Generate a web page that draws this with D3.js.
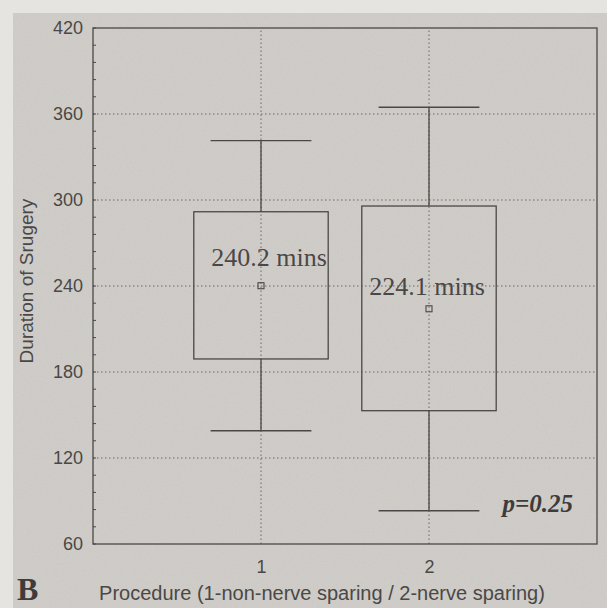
<!DOCTYPE html>
<html>
<head>
<meta charset="utf-8">
<script src="https://cdn.jsdelivr.net/npm/d3@7"></script>
<style>
  body { margin: 0; background: #e6e4e0; }
  svg { display: block; }
</style>
</head>
<body>
<svg id="chart" width="607" height="608"></svg>
<script>
// data
var procedures = [1, 2];
var whiskerHigh = [341.4, 364.7];
var q3 = [291.8, 295.8];
var q1 = [189.1, 153.0];
var whiskerLow = [139.0, 83.2];
var means = [240.2, 224.1];
var meanLabels = ["240.2 mins", "224.1 mins"];
var yTicks = [60, 120, 180, 240, 300, 360, 420];

var svg = d3.select("#chart");

var x = d3.scaleLinear().domain([0, 3]).range([93, 597]);
var y = d3.scaleLinear().domain([60, 420]).range([544, 28]);

var ink = "#4a4846";
var sans = "Liberation Sans, Arial, sans-serif";
var serif = "Liberation Serif, Times New Roman, serif";

// scanned paper background
var defs = svg.append("defs");
var f = defs.append("filter").attr("id", "grain")
  .attr("x", 0).attr("y", 0).attr("width", "100%").attr("height", "100%");
f.append("feTurbulence").attr("type", "fractalNoise")
  .attr("baseFrequency", 0.9).attr("numOctaves", 2).attr("seed", 4);
f.append("feColorMatrix").attr("type", "matrix")
  .attr("values", "0 0 0 0 0.78  0 0 0 0 0.77  0 0 0 0 0.75  0 0 0 -0.6 0.55");

svg.append("rect").attr("x", 13).attr("y", 13).attr("width", 594).attr("height", 595)
  .attr("fill", "#cbc8c4");
svg.append("rect").attr("x", 13).attr("y", 13).attr("width", 594).attr("height", 595)
  .attr("filter", "url(#grain)").attr("opacity", 0.5);

// grid
var grid = svg.append("g").attr("stroke", "#6a6866").attr("stroke-width", 1)
  .attr("stroke-dasharray", "1.5,2.5").attr("fill", "none");
grid.selectAll(".gy").data(yTicks.slice(1, -1)).join("line")
  .attr("x1", x.range()[0]).attr("x2", x.range()[1])
  .attr("y1", d => y(d)).attr("y2", d => y(d));
grid.selectAll(".gx").data(procedures).join("line")
  .attr("x1", d => x(d)).attr("x2", d => x(d))
  .attr("y1", y.range()[0]).attr("y2", y.range()[1]);

// frame
svg.append("rect")
  .attr("x", x.range()[0]).attr("y", y.range()[1])
  .attr("width", x.range()[1] - x.range()[0]).attr("height", y.range()[0] - y.range()[1])
  .attr("fill", "none").attr("stroke", ink).attr("stroke-width", 1.3);

// left axis with minor ticks
var yAxis = d3.axisLeft(y).tickValues(yTicks).tickSize(0).tickPadding(10);
var gy = svg.append("g").attr("transform", "translate(" + x.range()[0] + ",0)").call(yAxis);
gy.select(".domain").remove();
gy.selectAll("text").attr("font-family", sans).attr("font-size", 18).attr("fill", ink);

var minor = d3.range(60, 421, 12);
svg.append("g").selectAll("line").data(minor).join("line")
  .attr("x1", x.range()[0]).attr("x2", x.range()[0] + 3)
  .attr("y1", d => y(d)).attr("y2", d => y(d))
  .attr("stroke", ink).attr("stroke-width", 1);

// bottom axis
var xAxis = d3.axisBottom(x).tickValues(procedures).tickFormat(d3.format("d")).tickSize(0).tickPadding(16);
var gx = svg.append("g").attr("transform", "translate(0," + y.range()[0] + ")").call(xAxis);
gx.select(".domain").remove();
gx.selectAll("text").attr("font-family", sans).attr("font-size", 18).attr("fill", ink);

// boxes
var boxW = 0.8, capW = 0.6;
var labelDy = [-20, -14], labelDx = [8, -2];
var boxes = svg.append("g").attr("stroke", ink).attr("stroke-width", 1.3).attr("fill", "none");
procedures.forEach(function (p, i) {
  var g = boxes.append("g");
  g.append("line").attr("x1", x(p)).attr("x2", x(p))
    .attr("y1", y(whiskerHigh[i])).attr("y2", y(q3[i]));
  g.append("line").attr("x1", x(p)).attr("x2", x(p))
    .attr("y1", y(q1[i])).attr("y2", y(whiskerLow[i]));
  g.append("line").attr("x1", x(p - capW / 2)).attr("x2", x(p + capW / 2))
    .attr("y1", y(whiskerHigh[i])).attr("y2", y(whiskerHigh[i]));
  g.append("line").attr("x1", x(p - capW / 2)).attr("x2", x(p + capW / 2))
    .attr("y1", y(whiskerLow[i])).attr("y2", y(whiskerLow[i]));
  g.append("rect").attr("x", x(p - boxW / 2)).attr("y", y(q3[i]))
    .attr("width", x(p + boxW / 2) - x(p - boxW / 2)).attr("height", y(q1[i]) - y(q3[i]));
  g.append("rect").attr("x", x(p) - 3).attr("y", y(means[i]) - 3)
    .attr("width", 6).attr("height", 6).attr("stroke-width", 1.1);
  svg.append("text").attr("x", x(p) + labelDx[i]).attr("y", y(means[i]) + labelDy[i])
    .attr("text-anchor", "middle")
    .attr("font-family", serif).attr("font-size", 26).attr("fill", ink).text(meanLabels[i]);
});

// titles and annotations
svg.append("text").attr("transform", "translate(33,281) rotate(-90)")
  .attr("text-anchor", "middle")
  .attr("font-family", sans).attr("font-size", 19).attr("fill", ink).text("Duration of Srugery");

svg.append("text").attr("x", 322).attr("y", 600)
  .attr("text-anchor", "middle")
  .attr("font-family", sans).attr("font-size", 20).attr("fill", ink)
  .text("Procedure (1-non-nerve sparing / 2-nerve sparing)");

svg.append("text").attr("x", 17).attr("y", 600)
  .attr("font-family", serif)
  .attr("font-weight", "bold").attr("font-size", 32).attr("fill", "#3e3c3a").text("B");

svg.append("text").attr("x", 573).attr("y", 512).attr("text-anchor", "end")
  .attr("font-family", serif)
  .attr("font-weight", "bold").attr("font-style", "italic")
  .attr("font-size", 25).attr("fill", "#3e3c3a").text("p=0.25");
</script>
</body>
</html>
